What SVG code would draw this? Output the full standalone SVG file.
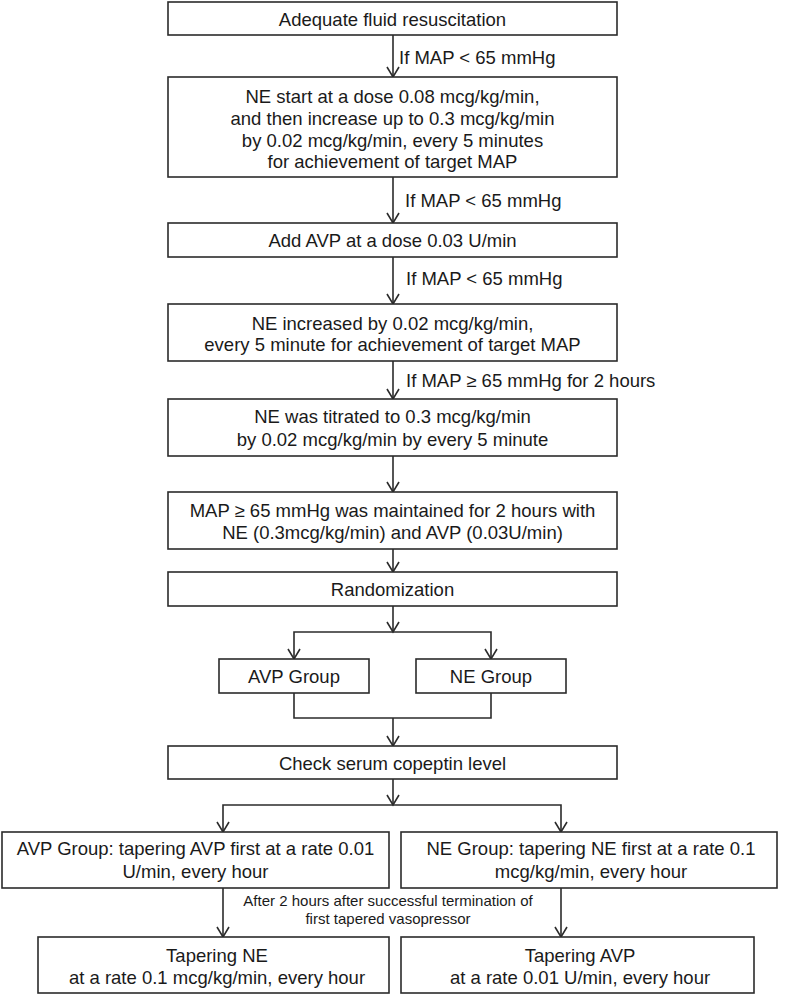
<svg xmlns="http://www.w3.org/2000/svg" width="787" height="996" viewBox="0 0 787 996">
<style>
.box{fill:#fff;stroke:#2b2b2b;stroke-width:1.6}
.t{font-family:"Liberation Sans",Arial,sans-serif;font-size:18.5px;fill:#1a1a1a;text-anchor:middle}
.l{font-family:"Liberation Sans",Arial,sans-serif;font-size:18.5px;fill:#1a1a1a}
.s{font-family:"Liberation Sans",Arial,sans-serif;font-size:15px;fill:#1a1a1a;text-anchor:middle}
.c{fill:none;stroke:#2b2b2b;stroke-width:1.6}
</style>
<rect width="787" height="996" fill="#fff"/>
<g id="connectors">
<line class="c" x1="393" y1="35" x2="393" y2="77"/>
<line class="c" x1="393" y1="177" x2="393" y2="223"/>
<line class="c" x1="393" y1="257" x2="393" y2="304"/>
<line class="c" x1="393" y1="361" x2="393" y2="399"/>
<line class="c" x1="393" y1="456" x2="393" y2="492"/>
<line class="c" x1="393" y1="549" x2="393" y2="572"/>
<line class="c" x1="393" y1="606" x2="393" y2="632"/>
<polyline class="c" points="294,659 294,632 491,632 491,659"/>
<polyline class="c" points="294,693 294,718 491,718 491,693"/>
<line class="c" x1="393" y1="718" x2="393" y2="746"/>
<line class="c" x1="393" y1="779" x2="393" y2="805"/>
<polyline class="c" points="223,832 223,805 561,805 561,832"/>
<line class="c" x1="223" y1="888" x2="223" y2="937"/>
<line class="c" x1="561" y1="888" x2="561" y2="937"/>
<g class="c">
<path d="M387,67 L393,77 L399,67"/>
<path d="M387,213 L393,223 L399,213"/>
<path d="M387,294 L393,304 L399,294"/>
<path d="M387,389 L393,399 L399,389"/>
<path d="M387,482 L393,492 L399,482"/>
<path d="M387,562 L393,572 L399,562"/>
<path d="M387,622 L393,632 L399,622"/>
<path d="M288,649 L294,659 L300,649"/>
<path d="M485,649 L491,659 L497,649"/>
<path d="M387,736 L393,746 L399,736"/>
<path d="M387,795 L393,805 L399,795"/>
<path d="M217,822 L223,832 L229,822"/>
<path d="M555,822 L561,832 L567,822"/>
<path d="M217,927 L223,937 L229,927"/>
<path d="M555,927 L561,937 L567,927"/>
</g>
<text class="l" x="399" y="64">If MAP &lt; 65 mmHg</text>
<text class="l" x="405" y="207">If MAP &lt; 65 mmHg</text>
<text class="l" x="406" y="285">If MAP &lt; 65 mmHg</text>
<text class="l" x="406" y="387">If MAP ≥ 65 mmHg for 2 hours</text>
<text class="s" x="388" y="906">After 2 hours after successful termination of</text>
<text class="s" x="388" y="924">first tapered vasopressor</text>
</g>
<g id="n1"><rect class="box" x="168" y="2" width="449" height="33"/><text class="t" x="392.5" y="26">Adequate fluid resuscitation</text></g>
<g id="n2"><rect class="box" x="168" y="77" width="449" height="100"/>
<text class="t" x="392.5" y="103">NE start at a dose 0.08 mcg/kg/min,</text>
<text class="t" x="392.5" y="125">and then increase up to 0.3 mcg/kg/min</text>
<text class="t" x="392.5" y="146.5">by 0.02 mcg/kg/min, every 5 minutes</text>
<text class="t" x="392.5" y="168">for achievement of target MAP</text></g>
<g id="n3"><rect class="box" x="168" y="223" width="449" height="34"/><text class="t" x="392.5" y="247">Add AVP at a dose 0.03 U/min</text></g>
<g id="n4"><rect class="box" x="168" y="304" width="449" height="57"/>
<text class="t" x="392.5" y="329.5">NE increased by 0.02 mcg/kg/min,</text>
<text class="t" x="392.5" y="351">every 5 minute for achievement of target MAP</text></g>
<g id="n5"><rect class="box" x="168" y="399" width="449" height="57"/>
<text class="t" x="392.5" y="423">NE was titrated to 0.3 mcg/kg/min</text>
<text class="t" x="392.5" y="446">by 0.02 mcg/kg/min by every 5 minute</text></g>
<g id="n6"><rect class="box" x="168" y="492" width="449" height="57"/>
<text class="t" x="392.5" y="517">MAP ≥ 65 mmHg was maintained for 2 hours with</text>
<text class="t" x="392.5" y="539">NE (0.3mcg/kg/min) and AVP (0.03U/min)</text></g>
<g id="n7"><rect class="box" x="168" y="572" width="449" height="34"/><text class="t" x="392.5" y="596">Randomization</text></g>
<g id="n8"><rect class="box" x="219" y="659" width="150" height="34"/><text class="t" x="294" y="683">AVP Group</text></g>
<g id="n9"><rect class="box" x="416" y="659" width="150" height="34"/><text class="t" x="491" y="683">NE Group</text></g>
<g id="n10"><rect class="box" x="168" y="746" width="449" height="33"/><text class="t" x="392.5" y="770">Check serum copeptin level</text></g>
<g id="n11"><rect class="box" x="2" y="832" width="387" height="56"/>
<text class="t" x="195.5" y="855">AVP Group: tapering AVP first at a rate 0.01</text>
<text class="t" x="195.5" y="878">U/min, every hour</text></g>
<g id="n12"><rect class="box" x="401" y="832" width="376" height="56"/>
<text class="t" x="591" y="855">NE Group: tapering NE first at a rate 0.1</text>
<text class="t" x="591" y="878">mcg/kg/min, every hour</text></g>
<g id="n13"><rect class="box" x="38" y="937" width="351" height="56"/>
<text class="t" x="217" y="962">Tapering NE</text>
<text class="t" x="217" y="984">at a rate 0.1 mcg/kg/min, every hour</text></g>
<g id="n14"><rect class="box" x="401" y="937" width="353" height="56"/>
<text class="t" x="580" y="962">Tapering AVP</text>
<text class="t" x="580" y="984">at a rate 0.01 U/min, every hour</text></g>
</svg>
